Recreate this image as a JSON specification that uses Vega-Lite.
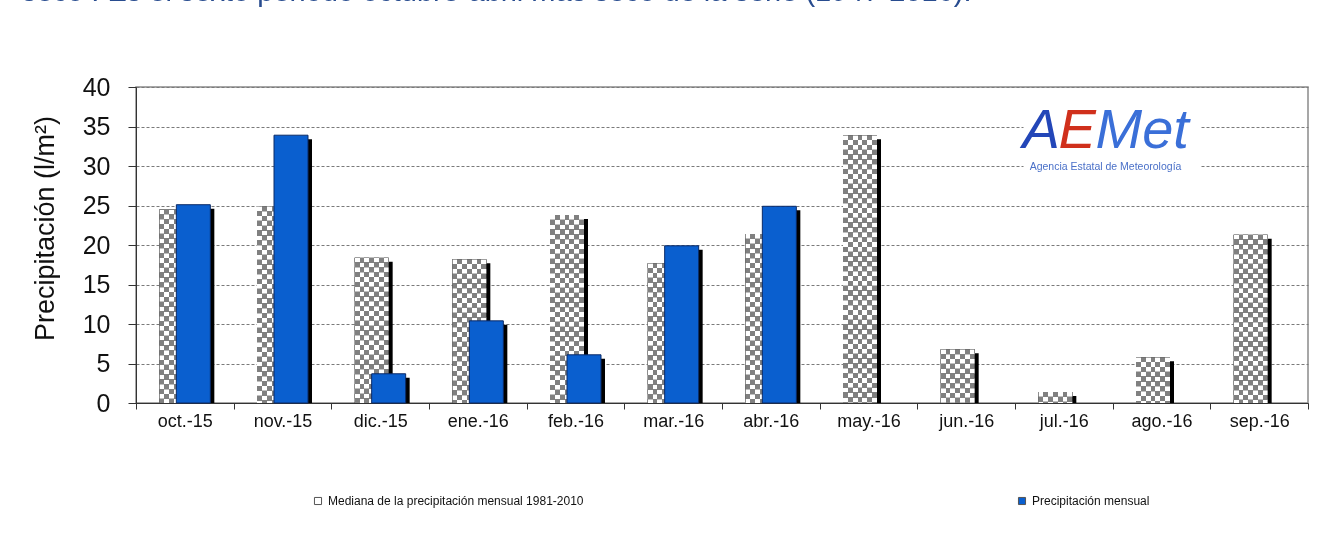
{
  "$schema": "https://vega.github.io/schema/vega-lite/v6.json",
  "width": 1172,
  "height": 316,
  "autosize": {"type": "none"},
  "padding": {"left": 136, "top": 87, "right": 31, "bottom": 144},
  "background": "white",
  "title": {
    "text": "seco . Es el sexto periodo octubre-abril más seco de la serie (1947-2016).",
    "anchor": "start",
    "frame": "group",
    "orient": "top",
    "dx": -114,
    "offset": 45,
    "fontSize": 29,
    "font": "Liberation Sans",
    "fontWeight": "normal",
    "color": "#284c8f",
    "baseline": "alphabetic"
  },
  "data": {
    "values": [
      {"mes": "oct.-15", "serie": "Mediana de la precipitación mensual  1981-2010", "valor": 24.5},
      {"mes": "nov.-15", "serie": "Mediana de la precipitación mensual  1981-2010", "valor": 24.9},
      {"mes": "dic.-15", "serie": "Mediana de la precipitación mensual  1981-2010", "valor": 18.4},
      {"mes": "ene.-16", "serie": "Mediana de la precipitación mensual  1981-2010", "valor": 18.2},
      {"mes": "feb.-16", "serie": "Mediana de la precipitación mensual  1981-2010", "valor": 23.8},
      {"mes": "mar.-16", "serie": "Mediana de la precipitación mensual  1981-2010", "valor": 17.7},
      {"mes": "abr.-16", "serie": "Mediana de la precipitación mensual  1981-2010", "valor": 21.4},
      {"mes": "may.-16", "serie": "Mediana de la precipitación mensual  1981-2010", "valor": 33.9},
      {"mes": "jun.-16", "serie": "Mediana de la precipitación mensual  1981-2010", "valor": 6.8},
      {"mes": "jul.-16", "serie": "Mediana de la precipitación mensual  1981-2010", "valor": 1.4},
      {"mes": "ago.-16", "serie": "Mediana de la precipitación mensual  1981-2010", "valor": 5.8},
      {"mes": "sep.-16", "serie": "Mediana de la precipitación mensual  1981-2010", "valor": 21.3},
      {"mes": "oct.-15", "serie": "Precipitación mensual", "valor": 25.1},
      {"mes": "nov.-15", "serie": "Precipitación mensual", "valor": 33.9},
      {"mes": "dic.-15", "serie": "Precipitación mensual", "valor": 3.7},
      {"mes": "ene.-16", "serie": "Precipitación mensual", "valor": 10.4},
      {"mes": "feb.-16", "serie": "Precipitación mensual", "valor": 6.1},
      {"mes": "mar.-16", "serie": "Precipitación mensual", "valor": 19.9},
      {"mes": "abr.-16", "serie": "Precipitación mensual", "valor": 24.9}
    ]
  },
  "encoding": {
    "x": {
      "field": "mes",
      "type": "nominal",
      "sort": null,
      "scale": {
        "domain": ["oct.-15", "nov.-15", "dic.-15", "ene.-16", "feb.-16", "mar.-16", "abr.-16", "may.-16", "jun.-16", "jul.-16", "ago.-16", "sep.-16"],
        "paddingInner": 0,
        "paddingOuter": 0
      },
      "axis": {
        "title": null,
        "tickBand": "extent",
        "labelAngle": 0,
        "labelFontSize": 18,
        "labelFont": "Liberation Sans",
        "labelColor": "#111111",
        "labelPadding": 3,
        "tickSize": 6,
        "tickColor": "#333333",
        "domainColor": "#333333",
        "grid": false
      }
    },
    "y": {
      "field": "valor",
      "type": "quantitative",
      "scale": {"domain": [0, 40], "nice": false},
      "axis": {
        "values": [0, 5, 10, 15, 20, 25, 30, 35, 40],
        "title": "Precipitación (l/m²)",
        "titleFont": "Liberation Sans",
        "titleFontSize": 27,
        "titleFontWeight": "normal",
        "titleColor": "#111111",
        "titleX": -83,
        "titleY": 141,
        "titleBaseline": "alphabetic",
        "titleAlign": "center",
        "labelFont": "Liberation Sans",
        "labelFontSize": 25,
        "labelColor": "#111111",
        "labelPadding": 18,
        "tickSize": 8,
        "tickColor": "#333333",
        "domainColor": "#333333",
        "grid": true,
        "gridDash": [3, 2],
        "gridColor": "#7a7a7a"
      }
    }
  },
  "layer": [
    {
      "transform": [{"filter": {"field": "serie", "equal": "Mediana de la precipitación mensual  1981-2010"}}],
      "mark": {"type": "bar", "width": 34, "xOffset": -4.5, "yOffset": 4, "y2Offset": 4, "color": "black", "clip": true}
    },
    {
      "transform": [{"filter": {"field": "serie", "equal": "Mediana de la precipitación mensual  1981-2010"}}],
      "mark": {
        "type": "bar",
        "width": 34,
        "xOffset": -8.5,
        "fill": {
          "gradient": "linear",
          "x1": 0, "x2": 1, "y1": 0, "y2": 0,
          "stops": [
            {"offset": 0, "color": "black"},
            {"offset": 0.142857, "color": "black"},
            {"offset": 0.142857, "color": "white"},
            {"offset": 0.285714, "color": "white"},
            {"offset": 0.285714, "color": "black"},
            {"offset": 0.428571, "color": "black"},
            {"offset": 0.428571, "color": "white"},
            {"offset": 0.571429, "color": "white"},
            {"offset": 0.571429, "color": "black"},
            {"offset": 0.714286, "color": "black"},
            {"offset": 0.714286, "color": "white"},
            {"offset": 0.857143, "color": "white"},
            {"offset": 0.857143, "color": "black"},
            {"offset": 1, "color": "black"}
          ]
        }
      }
    },
    {
      "transform": [{"filter": {"field": "serie", "equal": "Mediana de la precipitación mensual  1981-2010"}}],
      "mark": {"type": "rule", "strokeWidth": 34, "strokeDash": [4.857, 4.857], "color": "white", "blend": "difference", "xOffset": -8.5},
      "encoding": {"y2": {"datum": 0}}
    },
    {
      "transform": [{"filter": {"field": "serie", "equal": "Mediana de la precipitación mensual  1981-2010"}}],
      "mark": {"type": "bar", "width": 34, "xOffset": -8.5, "color": "#808080", "blend": "lighten"}
    },
    {
      "transform": [{"filter": {"field": "serie", "equal": "Precipitación mensual"}}],
      "mark": {"type": "bar", "width": 34, "xOffset": 12.5, "yOffset": 4, "y2Offset": 4, "color": "black", "clip": true}
    },
    {
      "transform": [{"filter": {"field": "serie", "equal": "Precipitación mensual"}}],
      "mark": {"type": "bar", "width": 34, "xOffset": 8.5, "stroke": "#0b2a66", "strokeWidth": 1},
      "encoding": {
        "color": {
          "field": "serie",
          "type": "nominal",
          "scale": {
            "domain": ["Mediana de la precipitación mensual  1981-2010", "Precipitación mensual"],
            "range": ["#ffffff", "#0a5fcf"]
          },
          "legend": {
            "title": null,
            "orient": "none",
            "legendX": 176,
            "legendY": 408,
            "direction": "horizontal",
            "columns": 2,
            "columnPadding": 429,
            "labelFont": "Liberation Sans",
            "labelFontSize": 12,
            "labelColor": "#111111",
            "labelLimit": 0,
            "symbolType": "square",
            "symbolSize": 50,
            "symbolStrokeColor": "#555555",
            "symbolStrokeWidth": 1,
            "symbolOpacity": 1
          }
        }
      }
    },
    {
      "data": {"values": [{"posicion": "ago.-16", "desde": 36.5, "hasta": 29.3}]},
      "mark": {"type": "bar", "width": 177, "xOffset": -49.5, "color": "white"},
      "encoding": {
        "x": {"field": "posicion", "type": "nominal"},
        "y": {"field": "desde", "type": "quantitative"},
        "y2": {"field": "hasta"}
      }
    },
    {
      "data": {"values": [{"logo": "A", "posicion": "ago.-16", "nivel": 32.3}]},
      "mark": {"type": "text", "align": "left", "baseline": "alphabetic", "dx": -139, "font": "Liberation Sans", "fontStyle": "italic", "fontSize": 56, "color": "#2346b8"},
      "encoding": {
        "x": {"field": "posicion", "type": "nominal"},
        "y": {"field": "nivel", "type": "quantitative"},
        "text": {"field": "logo"}
      }
    },
    {
      "data": {"values": [{"logo": "E", "posicion": "ago.-16", "nivel": 32.3}]},
      "mark": {"type": "text", "align": "left", "baseline": "alphabetic", "dx": -103, "font": "Liberation Sans", "fontStyle": "italic", "fontSize": 56, "color": "#d0301c"},
      "encoding": {
        "x": {"field": "posicion", "type": "nominal"},
        "y": {"field": "nivel", "type": "quantitative"},
        "text": {"field": "logo"}
      }
    },
    {
      "data": {"values": [{"logo": "Met", "posicion": "ago.-16", "nivel": 32.3}]},
      "mark": {"type": "text", "align": "left", "baseline": "alphabetic", "dx": -66, "font": "Liberation Sans", "fontStyle": "italic", "fontSize": 56, "color": "#3a6fd8"},
      "encoding": {
        "x": {"field": "posicion", "type": "nominal"},
        "y": {"field": "nivel", "type": "quantitative"},
        "text": {"field": "logo"}
      }
    },
    {
      "data": {"values": [{"logo": "Agencia Estatal de Meteorología", "posicion": "ago.-16", "nivel": 29.5}]},
      "mark": {"type": "text", "align": "center", "baseline": "alphabetic", "dx": -56, "font": "Liberation Sans", "fontSize": 10.5, "color": "#4a70c8"},
      "encoding": {
        "x": {"field": "posicion", "type": "nominal"},
        "y": {"field": "nivel", "type": "quantitative"},
        "text": {"field": "logo"}
      }
    }
  ],
  "config": {
    "view": {"stroke": "#8a8a8a", "strokeWidth": 1.5}
  }
}
